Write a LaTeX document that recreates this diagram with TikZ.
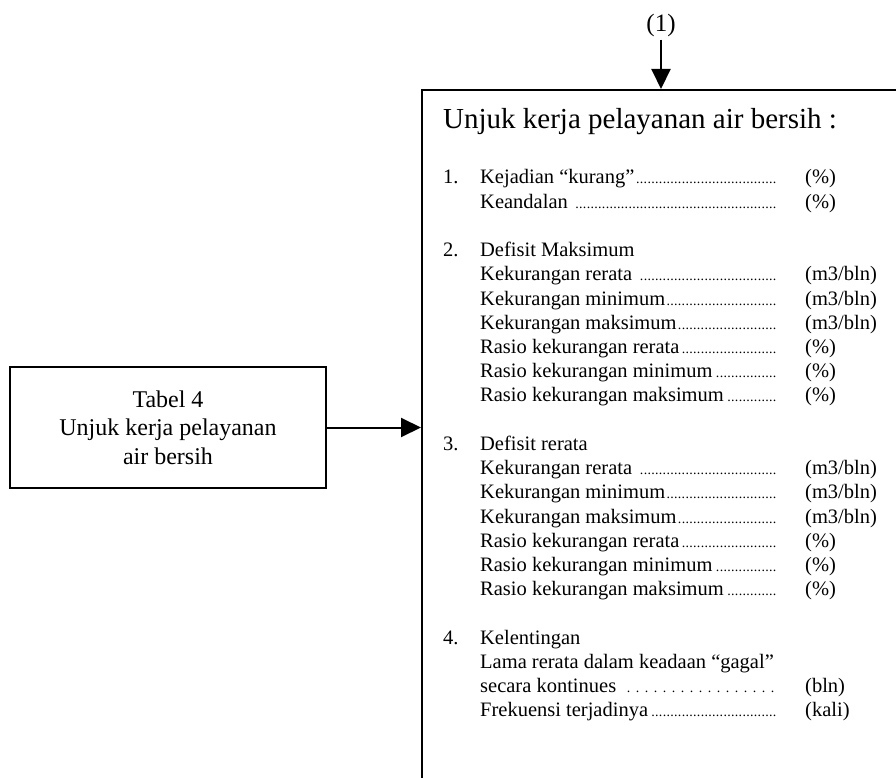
\documentclass[tikz,border=0pt]{standalone}
\usepackage{fontspec}
\setmainfont{Liberation Serif}
\usepackage{tikz}
\usetikzlibrary{shapes,positioning,arrows.meta}
\tikzset{kotak/.style={draw,line width=2pt,inner sep=0pt},
        textbox/.style={draw=none,color=black,inner sep=0pt,align=left,font=\fontsize{20.5}{24.2}\selectfont},
        panah/.style={-{Triangle[width=19pt,length=20pt]},line width=2pt}}
\newcommand\titik[1][3.8pt]{\leaders\hbox to #1{\hss\fontsize{14}{14}\selectfont.\hss}\hfill}
\newcommand\baris[3][3.8pt]{\hbox to 300pt{#2\titik[#1]} & #3}

\begin{document}
\begin{tikzpicture}[x=1pt,y=1pt]
        \useasboundingbox (0,0) rectangle (896,-778);
        \clip (0,0) rectangle (896,-778);
        \tikzstyle{every node}=[inner sep=0pt];
        \node[kotak,anchor=north west,minimum width=600pt,minimum height=760pt] (kinerja) at (421,-89) {};
        \node[kotak,minimum width=316pt,minimum height=121pt,align=center,font=\fontsize{24}{28.5}\selectfont] (tabel) at (168,-427.5) {Tabel 4\\Unjuk kerja pelayanan\\air bersih};
        \node[font=\fontsize{25}{30}\selectfont,inner sep=3pt] (nomor) at (661,-25) {(1)};

        \node[textbox,font=\fontsize{29}{34}\selectfont,below right=19pt and 22pt of kinerja.north west] (judul) {Unjuk kerja pelayanan air bersih :};
        \node[textbox,below right=32pt and 0pt of judul.south west] (blok1) {%
            \begin{tabular}{@{}p{37pt}@{}l@{\hspace{25pt}}l@{}}
            1. & \baris{Kejadian “kurang”}{(\%)}\\
               & \baris{Keandalan }{(\%)}\\
            \end{tabular}};
        \node[textbox,below right=24pt and 0pt of blok1.south west] (blok2) {%
            \begin{tabular}{@{}p{37pt}@{}l@{\hspace{25pt}}l@{}}
            2. & \multicolumn{2}{@{}l@{}}{Defisit Maksimum}\\
               & \baris{Kekurangan rerata }{(m3/bln)}\\
               & \baris{Kekurangan minimum}{(m3/bln)}\\
               & \baris{Kekurangan maksimum}{(m3/bln)}\\
               & \baris{Rasio kekurangan rerata}{(\%)}\\
               & \baris{Rasio kekurangan minimum}{(\%)}\\
               & \baris{Rasio kekurangan maksimum}{(\%)}\\
            \end{tabular}};
        \node[textbox,below right=24pt and 0pt of blok2.south west] (blok3) {%
            \begin{tabular}{@{}p{37pt}@{}l@{\hspace{25pt}}l@{}}
            3. & \multicolumn{2}{@{}l@{}}{Defisit rerata}\\
               & \baris{Kekurangan rerata }{(m3/bln)}\\
               & \baris{Kekurangan minimum}{(m3/bln)}\\
               & \baris{Kekurangan maksimum}{(m3/bln)}\\
               & \baris{Rasio kekurangan rerata}{(\%)}\\
               & \baris{Rasio kekurangan minimum}{(\%)}\\
               & \baris{Rasio kekurangan maksimum}{(\%)}\\
            \end{tabular}};
        \node[textbox,below right=24pt and 0pt of blok3.south west] (blok4) {%
            \begin{tabular}{@{}p{37pt}@{}l@{\hspace{25pt}}l@{}}
            4. & \multicolumn{2}{@{}l@{}}{Kelentingan}\\
               & \multicolumn{2}{@{}l@{}}{Lama rerata dalam keadaan “gagal”}\\
               & \baris[9pt]{secara kontinues}{(bln)}\\
               & \baris{Frekuensi terjadinya}{(kali)}\\
            \end{tabular}};

        \draw[panah] (nomor.south) -- (nomor.south |- kinerja.north);
        \draw[panah] (tabel.east) -- (tabel.east -| kinerja.west);
\end{tikzpicture}
\end{document}
